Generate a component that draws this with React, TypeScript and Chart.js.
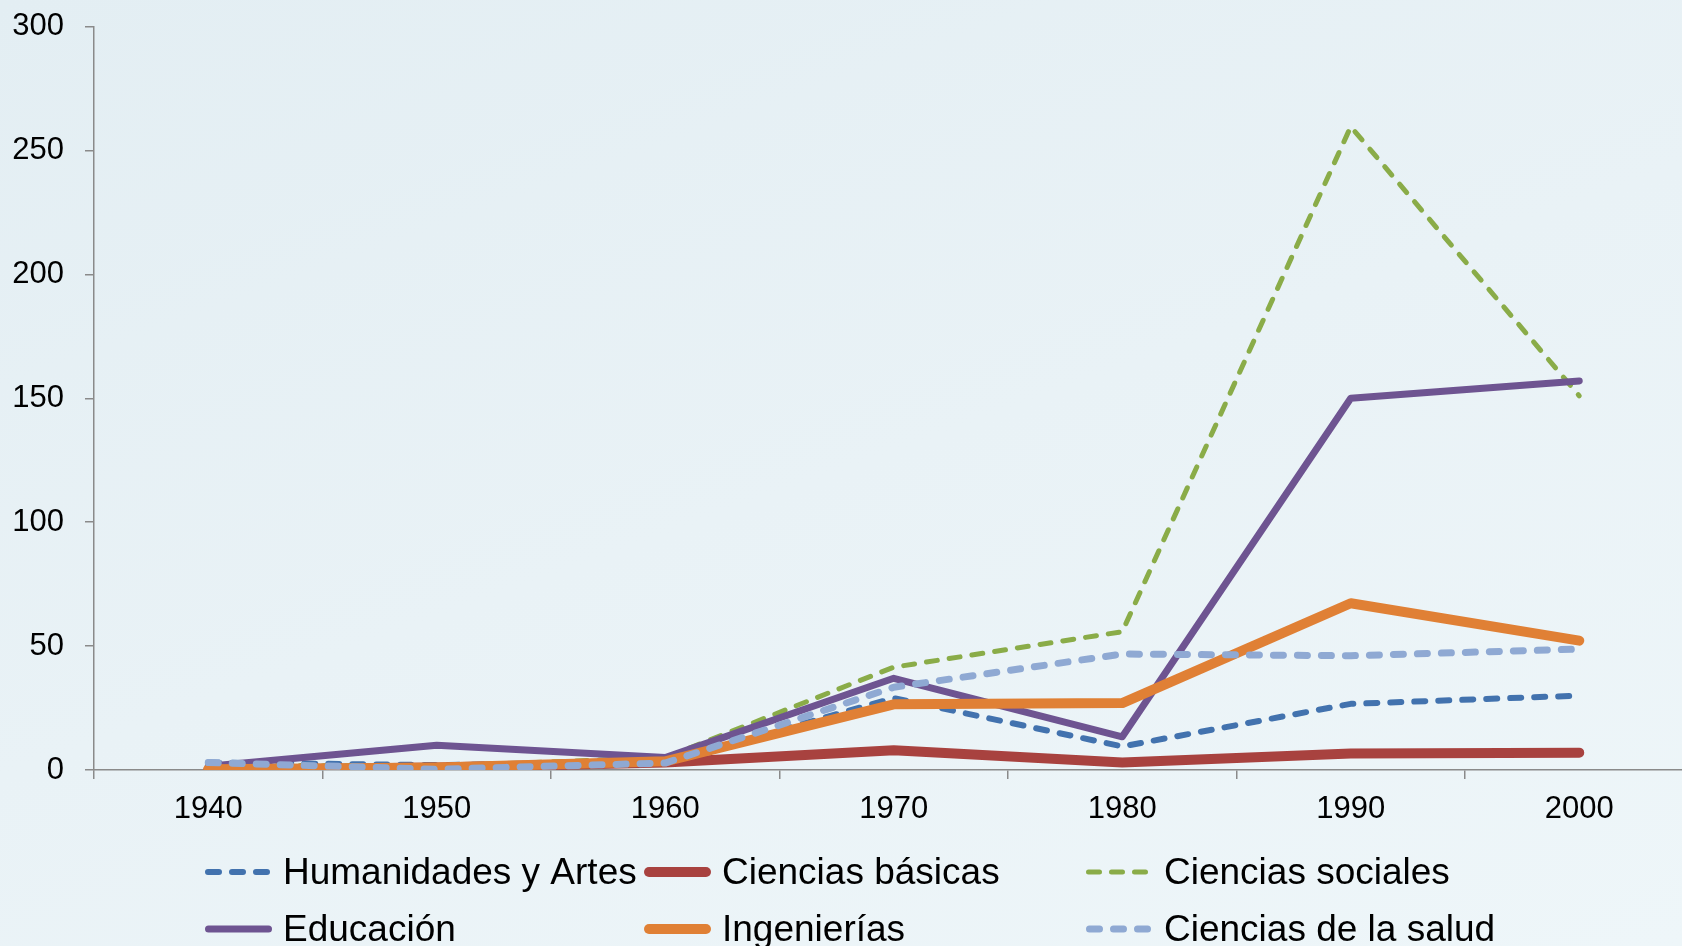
import React, { useEffect, useRef } from "react";
import { Chart, registerables } from "chart.js";

Chart.register(...registerables);

const years = ["1940", "1950", "1960", "1970", "1980", "1990", "2000"];
const humanidades = [3, 2, 3, 29, 9.5, 26.7, 30];
const cienciasBasicas = [0, 1, 3, 8, 3, 6.7, 7];
const cienciasSociales = [2, 1.5, 5, 41.5, 55.8, 259.6, 151];
const educacion = [1.5, 10, 5, 37, 13.4, 150, 157];
const ingenierias = [0.3, 1, 3.5, 26.5, 27, 67.3, 52.2];
const salud = [3, 0.3, 2.8, 33.4, 46.8, 46.1, 48.8];
const yTicks = [0, 50, 100, 150, 200, 250, 300];

const seriesNames = [
  "Humanidades y Artes",
  "Ciencias básicas",
  "Ciencias sociales",
  "Educación",
  "Ingenierías",
  "Ciencias de la salud",
];
const seriesValues = [humanidades, cienciasBasicas, cienciasSociales, educacion, ingenierias, salud];
const seriesColors = ["#4272ae", "#a8423f", "#8aac48", "#6e5491", "#e08035", "#8fa9d3"];
const seriesWidths = [6, 10, 5, 7, 10, 7];
const seriesDashes: number[][] = [[11, 13], [], [11, 12], [], [], [10, 14]];

const FONT = "'Liberation Sans', Arial, Helvetica, sans-serif";
const AXIS_COLOR = "#8a8a8a";

const CANVAS_W = 1720;
const CANVAS_H = 946;
const LEGEND_COLS = [205, 644, 1086];
const LEGEND_ROWS = [872, 929];
const LEGEND_LINE = 67;
const LEGEND_TEXT_GAP = 78;

const gridLegend = {
  id: "gridLegend",
  afterDraw(chart: any) {
    const ctx = chart.ctx;
    ctx.save();
    ctx.font = `37px ${FONT}`;
    ctx.textBaseline = "middle";
    seriesNames.forEach((name, i) => {
      const ds = chart.data.datasets[i];
      const x = LEGEND_COLS[i % 3];
      const y = LEGEND_ROWS[Math.floor(i / 3)];
      const w = ds.borderWidth;
      ctx.beginPath();
      ctx.strokeStyle = ds.borderColor;
      ctx.lineWidth = w;
      ctx.lineCap = "round";
      ctx.setLineDash(ds.borderDash || []);
      ctx.moveTo(x + w / 2, y);
      ctx.lineTo(x + LEGEND_LINE - w / 2, y);
      ctx.stroke();
      ctx.setLineDash([]);
      ctx.fillStyle = "#000";
      ctx.fillText(name, x + LEGEND_TEXT_GAP, y + 2);
    });
    ctx.restore();
  },
};

export default function App() {
  const ref = useRef<HTMLCanvasElement | null>(null);

  useEffect(() => {
    if (!ref.current) return;
    const chart = new Chart(ref.current, {
      type: "line",
      data: {
        labels: years,
        datasets: seriesNames.map((name, i) => ({
          label: name,
          data: seriesValues[i],
          borderColor: seriesColors[i],
          backgroundColor: seriesColors[i],
          borderWidth: seriesWidths[i],
          borderDash: seriesDashes[i],
          borderCapStyle: "round",
          borderJoinStyle: "round",
          pointRadius: 0,
          tension: 0,
          fill: false,
          order: seriesNames.length - i,
        })),
      },
      options: {
        animation: false,
        responsive: false,
        maintainAspectRatio: false,
        layout: { padding: { top: 26.5, right: 26.5, bottom: 0, left: 0 } },
        plugins: { legend: { display: false }, tooltip: { enabled: false } },
        scales: {
          x: {
            offset: true,
            grid: {
              offset: true,
              drawOnChartArea: false,
              drawTicks: true,
              tickLength: 9,
              color: AXIS_COLOR,
              lineWidth: 1.5,
            },
            border: { display: true, color: AXIS_COLOR, width: 1.5 },
            ticks: {
              font: { size: 31, family: FONT },
              color: "#000",
              padding: 12,
              maxRotation: 0,
              autoSkip: false,
            },
            afterFit(scale: any) {
              scale.height = 176;
              scale.paddingLeft = 0;
              scale.paddingRight = 0;
            },
          },
          y: {
            min: yTicks[0],
            max: yTicks[yTicks.length - 1],
            grid: {
              drawOnChartArea: false,
              drawTicks: true,
              tickLength: 9,
              color: AXIS_COLOR,
              lineWidth: 1.5,
            },
            border: { display: true, color: AXIS_COLOR, width: 1.5 },
            ticks: {
              stepSize: yTicks[1] - yTicks[0],
              font: { size: 31, family: FONT },
              color: "#000",
              padding: 21,
            },
            afterFit(scale: any) {
              scale.width = 94;
              scale.paddingTop = 0;
              scale.paddingBottom = 0;
            },
          },
        },
      },
      plugins: [gridLegend],
    });
    return () => chart.destroy();
  }, []);

  return (
    <div
      style={{
        position: "fixed",
        left: 0,
        top: 0,
        width: 1682,
        height: 946,
        overflow: "hidden",
        background: "linear-gradient(160deg, #e3eef3 0%, #e9f2f6 50%, #eef6f9 100%)",
      }}
    >
      <canvas
        ref={ref}
        width={CANVAS_W}
        height={CANVAS_H}
        style={{ width: CANVAS_W, height: CANVAS_H, display: "block" }}
      />
    </div>
  );
}
